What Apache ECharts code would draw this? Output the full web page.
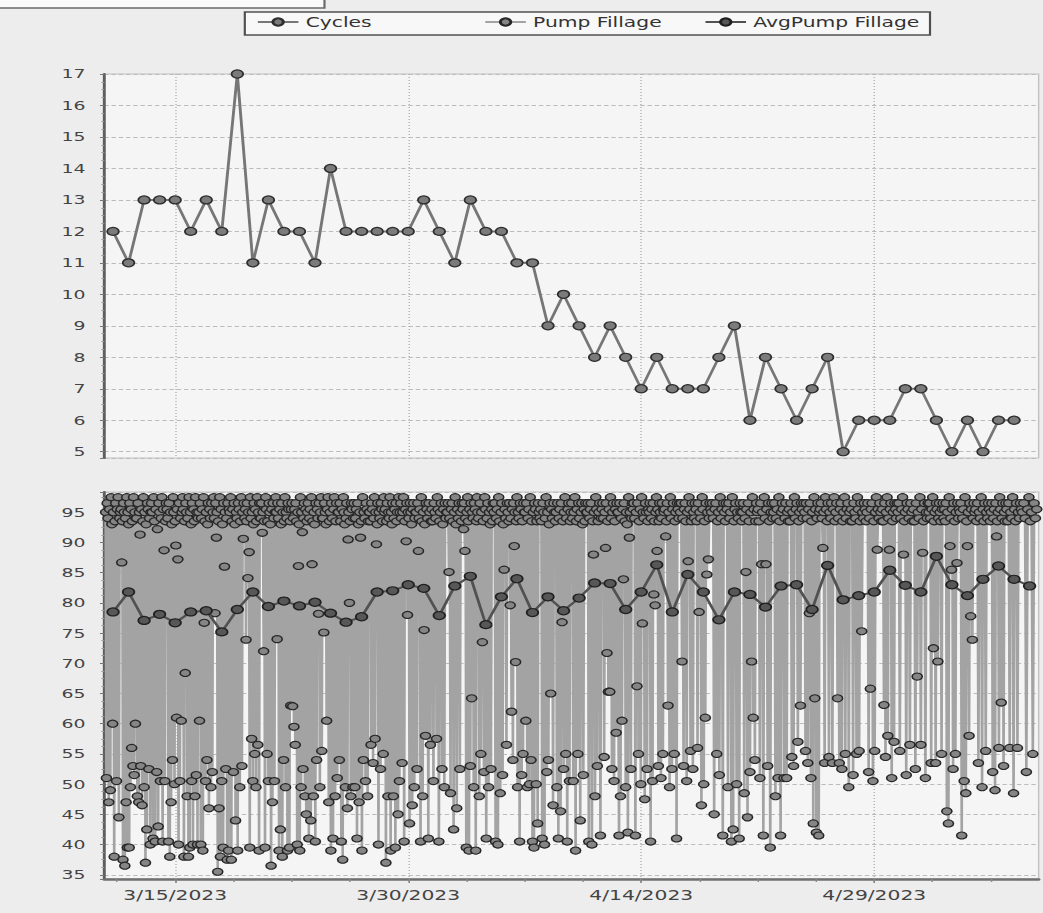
<!DOCTYPE html>
<html>
<head>
<meta charset="utf-8">
<script src="https://cdn.jsdelivr.net/npm/echarts@6/dist/echarts.min.js"></script>
<style>
  html, body { margin: 0; padding: 0; background: #ededed; overflow: hidden; }
  /* the chart is laid out on a 720px-wide canvas and widened to fill the window */
  #chart { width: 720px; height: 913px; transform: scaleX(1.448611); transform-origin: 0 0; }
</style>
</head>
<body>
<div id="chart"></div>
<script>
// ---- data ---------------------------------------------------------------
const firstDay = '2023-03-11';                      // first day of readings
const tickDates = ['2023-03-15', '2023-03-30', '2023-04-14', '2023-04-29'];

// pump cycles per day, 3/11 .. 5/8
const cycles = [12, 11, 13, 13, 13, 12, 13, 12, 17, 11, 13, 12, 12, 11, 14, 12, 12, 12, 12, 12,
  13, 12, 11, 13, 12, 12, 11, 11, 9, 10, 9, 8, 9, 8, 7, 8, 7, 7, 7, 8,
  9, 6, 8, 7, 6, 7, 8, 5, 6, 6, 6, 7, 7, 6, 5, 6, 5, 6, 6];

// daily average pump fillage (%), 3/11 .. 5/9
const avgFillage = [78.5, 81.8, 77.1, 78.1, 76.7, 78.5, 78.7, 75.2, 78.9, 81.8,
  79.4, 80.3, 79.5, 80.1, 78.3, 76.8, 77.7, 81.8, 82.0, 83.0,
  82.4, 77.9, 82.8, 84.4, 76.4, 81.0, 84.0, 78.4, 81.0, 78.7,
  80.8, 83.3, 83.2, 78.9, 81.8, 86.3, 78.5, 84.7, 81.8, 77.2,
  81.8, 81.4, 79.3, 82.8, 83.0, 78.9, 86.2, 80.5, 81.2, 81.8,
  85.4, 82.9, 81.8, 87.7, 83.0, 81.2, 83.9, 86.1, 83.9, 82.8];

// individual pump fillage readings (%), one list per day, 3/11 .. 5/9
const fillage = [
  [95, 51, 96.5, 94, 47, 95.5, 49, 97.5, 93, 60, 95, 38, 93.5, 96.5, 50.5, 95.5, 97.5, 44.5, 94, 95],
  [95.5, 86.7, 93.5, 37.5, 96.5, 95, 36.5, 94, 47, 97.5, 39.5, 95, 93, 39.5, 96.5, 49.5, 95.5, 56, 93.5, 53, 97.5, 51.5, 95, 60, 94],
  [94, 48, 96.5, 47, 95, 91.3, 53, 95.5, 46.5, 93.5, 97.5, 49.5, 95, 37, 93, 42.5, 96.5, 95.5, 52.5, 94, 40, 95, 96.5],
  [95, 41, 97.5, 93.5, 40.5, 95.5, 52, 92.2, 43, 96.5, 95, 50.5, 94, 97.5, 40.5, 95.5, 88.7, 50.5, 93.5, 96.5, 95.5],
  [94, 40.5, 96.5, 38, 95, 47, 93, 54, 97.5, 95, 50, 93.5, 89.5, 61, 95.5, 87.2, 40, 96.5, 50.5, 94, 60.5, 95, 97.5],
  [95.5, 38, 93.5, 68.4, 96.5, 95, 48, 94, 38, 97.5, 39.5, 95, 93, 50.5, 96.5, 40, 95.5, 93.5, 48, 97.5, 51.5, 95, 40, 94],
  [95, 60.5, 96.5, 40, 94, 95.5, 39, 97.5, 76.7, 93.5, 50.5, 95, 54, 93, 96.5, 46, 95.5, 94, 49.5, 96.5, 52, 95, 97.5],
  [94, 78.3, 96.5, 90.8, 95, 35.5, 93.5, 46, 97.5, 38, 95.5, 50.5, 93, 39.5, 96.5, 86, 95, 52.5, 94, 37.5, 96.5, 39, 95.5],
  [95, 97.5, 37.5, 93.5, 95.5, 52, 96.5, 93, 44, 95, 94, 39, 96.5, 95.5, 49.5, 93.5, 97.5, 53, 95, 90.6, 96.5, 94],
  [95.5, 73.9, 93.5, 96.5, 84.1, 95, 88.4, 39.5, 97.5, 94, 57.5, 95, 50.5, 93, 96.5, 55, 95.5, 49.5, 93.5, 97.5, 56.5, 95, 39, 96.5, 94],
  [94, 96.5, 91.6, 95, 72, 93.5, 39.5, 97.5, 95.5, 55, 93.5, 50.5, 96.5, 95, 93, 36.5, 95.5, 47, 96.5, 94, 50.5, 95, 97.5],
  [95, 74, 96.5, 94, 39, 95.5, 42.5, 93, 96.5, 38, 95, 54, 93.5, 97.5, 49.5, 95, 94, 39, 96.5, 95.5, 39.5, 93.5, 63, 95.5],
  [96.5, 62.9, 94, 59.5, 95.5, 56.5, 96.5, 93.5, 40, 95, 86.1, 93, 39, 97.5, 49.5, 95, 91.7, 52.5, 94, 96.5, 48, 95.5, 45, 93.5],
  [95, 96.5, 41, 94, 95.5, 44, 97.5, 86.4, 93.5, 48, 95, 93, 40.5, 96.5, 54, 95.5, 94, 78.2, 96.5, 49.5, 95, 97.5, 55.5, 94],
  [94, 75.1, 96.5, 95, 93, 60.5, 95.5, 97.5, 47, 93.5, 95, 39, 96.5, 94, 41, 95.5, 97.5, 48, 93.5, 96.5, 51, 95],
  [95, 54, 96.5, 93.5, 40.5, 95.5, 37.5, 97.5, 95, 93, 49.5, 94, 96.5, 46, 90.5, 95, 80, 93.5, 48, 96.5, 95.5, 49.5, 94],
  [96.5, 49.5, 94, 95.5, 41, 96.5, 93, 47, 95, 90.8, 93.5, 39, 97.5, 54, 95, 94, 50.5, 96.5, 95.5, 48, 93.5, 95],
  [95, 93.5, 56.5, 96.5, 95.5, 53.5, 94, 97.5, 57.5, 95, 89.7, 93, 96.5, 40, 95, 94, 52.5, 96.5, 95.5, 93.5, 55, 97.5, 95],
  [95.5, 37, 93.5, 96.5, 48, 95, 94, 97.5, 39, 95, 93, 96.5, 48, 94, 95.5, 39.5, 96.5, 93.5, 95, 45, 97.5, 50.5, 95],
  [96.5, 94, 53.5, 95, 97.5, 40.5, 93.5, 95.5, 90.2, 96.5, 78, 95, 94, 43.5, 96.5, 95, 93, 46.5, 95.5, 96.5, 49.5, 94, 95],
  [95, 52.5, 96.5, 88.6, 94, 95.5, 40.5, 97.5, 93.5, 48, 95, 75.5, 93, 58, 96.5, 95.5, 94, 41, 96.5, 95, 56.5, 93.5],
  [95.5, 93.5, 50.5, 96.5, 95, 94, 57.5, 97.5, 95.5, 40.5, 93.5, 95, 96.5, 52.5, 93, 95.5, 49.5, 96.5, 94, 95],
  [95, 96.5, 85.1, 94, 48.5, 95.5, 96.5, 93.5, 42.5, 95, 97.5, 93, 46, 95.5, 94, 96.5, 52.5, 95, 93.5, 96.5],
  [95.5, 92.2, 96.5, 88.6, 94, 39.5, 95, 97.5, 93.5, 39, 95.5, 53, 96.5, 64.2, 95, 94, 49.5, 96.5, 95.5, 39, 93.5, 97.5, 95],
  [94, 48, 96.5, 55, 95, 73.5, 93.5, 52, 97.5, 95.5, 41, 94, 96.5, 49.5, 95, 93, 52.5, 95.5, 93.5, 96.5],
  [95, 96.5, 40.5, 94, 95.5, 40, 97.5, 93.5, 48.5, 95, 96.5, 51.5, 93, 85.5, 95.5, 94, 56.5, 96.5, 95, 93.5],
  [96.5, 79.6, 94, 62, 95.5, 54, 96.5, 89.4, 95, 70.2, 93.5, 97.5, 49.5, 95, 94, 40.5, 96.5, 95.5, 51.5, 93.5, 55, 96.5, 95],
  [95, 60.5, 96.5, 49.5, 94, 95.5, 50, 97.5, 54, 93.5, 40.5, 95, 39.5, 96.5, 95.5, 50, 93.5, 43.5, 96.5, 95, 94],
  [95.5, 93.5, 41, 96.5, 95, 40, 94, 97.5, 52, 95, 54, 93, 96.5, 65, 95.5, 94, 46.5, 96.5, 95, 93.5],
  [95, 49.5, 96.5, 41, 94, 95.5, 45.5, 96.5, 76.8, 93.5, 52.5, 95, 97.5, 55, 94, 40.5, 95.5, 96.5, 50.5, 93.5, 95],
  [96.5, 94, 50.5, 95, 97.5, 39, 93.5, 95.5, 55, 96.5, 94, 44, 95, 96.5, 93, 51.5, 95.5, 93.5, 96.5, 95],
  [95, 96.5, 40.5, 94, 95.5, 96.5, 40, 93.5, 88, 95, 48, 97.5, 95.5, 53, 93.5, 95, 96.5, 41.5, 94, 95.5],
  [96.5, 94, 54.5, 95, 89.1, 96.5, 71.7, 93.5, 65.3, 95.5, 65.3, 97.5, 94, 52.5, 95, 96.5, 50.5, 93.5, 95.5, 58.5, 96.5, 95],
  [95, 41.5, 96.5, 48, 94, 60.5, 95.5, 83.9, 96.5, 93.5, 49.5, 95, 93, 42, 97.5, 90.8, 95, 52.5, 94, 96.5, 95.5],
  [96.5, 94, 41.5, 95, 66.2, 96.5, 55, 93.5, 95.5, 50, 97.5, 76.6, 95, 94, 47.5, 96.5, 95, 52.5, 93.5, 95.5],
  [95, 96.5, 40.5, 94, 95.5, 50.5, 96.5, 81.4, 93.5, 79.6, 95, 97.5, 88.6, 95.5, 53, 93.5, 96.5, 95, 51, 94, 96.5, 55, 95.5, 95],
  [95.5, 91, 93.5, 96.5, 63, 95, 49.5, 97.5, 94, 52.5, 95.5, 96.5, 55, 93.5, 95, 41, 96.5, 95.5, 94, 96.5],
  [95, 96.5, 70.3, 94, 53, 95.5, 96.5, 93.5, 50.5, 95, 86.9, 97.5, 95.5, 55.5, 93.5, 96.5, 52.5, 95, 94, 96.5],
  [95.5, 93.5, 56, 96.5, 78.5, 95, 94, 46.5, 97.5, 95.5, 50, 93.5, 61, 96.5, 84.7, 95, 87.2, 94, 96.5, 95.5],
  [95, 96.5, 94, 45, 95.5, 96.5, 55, 93.5, 95, 51.5, 97.5, 94, 95.5, 41.5, 96.5, 95, 93.5, 96.5],
  [95.5, 49.5, 96.5, 94, 95, 40.5, 97.5, 42.5, 93.5, 95.5, 96.5, 50, 95, 94, 41, 96.5, 95, 93.5],
  [95, 96.5, 48.5, 94, 85.1, 95.5, 44.5, 96.5, 93.5, 52, 95, 70.3, 97.5, 61, 95.5, 54, 93.5, 96.5, 95],
  [95.5, 93.5, 51, 96.5, 86.4, 95, 41.5, 97.5, 94, 86.4, 95.5, 53, 96.5, 93.5, 39.5, 95, 96.5, 94],
  [95, 96.5, 48, 94, 95.5, 51, 97.5, 93.5, 41.5, 95, 96.5, 95.5, 51, 94, 96.5, 51, 95, 93.5],
  [95.5, 93.5, 96.5, 54.5, 95, 53, 97.5, 94, 95.5, 96.5, 57, 93.5, 95, 63, 96.5, 95.5, 94, 96.5],
  [95, 55.5, 96.5, 94, 53.5, 95.5, 78.3, 96.5, 51, 93.5, 95, 43.5, 97.5, 64.2, 95.5, 42, 94, 96.5, 41.5, 95],
  [95.5, 96.5, 94, 89.1, 95, 53.5, 97.5, 95.5, 93.5, 96.5, 54.5, 95, 94, 96.5, 53.5, 95.5, 97.5, 93.5],
  [95, 96.5, 64.2, 94, 53.5, 95.5, 96.5, 52.5, 93.5, 95, 97.5, 55, 94, 95.5, 96.5, 49.5, 95, 93.5],
  [95.5, 93.5, 51.5, 96.5, 95, 94, 55, 97.5, 95.5, 55.5, 93.5, 96.5, 75.3, 95, 94, 96.5, 95.5, 93.5],
  [95, 96.5, 52, 94, 65.8, 95.5, 96.5, 50.5, 93.5, 55.5, 95, 97.5, 88.8, 95.5, 94, 96.5, 95, 93.5],
  [95.5, 93.5, 63.1, 96.5, 54.5, 95, 97.5, 58, 94, 88.8, 95.5, 96.5, 51, 93.5, 95, 57, 96.5, 95.5, 94, 96.5],
  [95, 96.5, 55.5, 94, 95.5, 97.5, 88, 93.5, 95, 51.5, 96.5, 95.5, 94, 56.5, 96.5, 95, 93.5],
  [95.5, 93.5, 52.5, 96.5, 67.8, 95, 94, 97.5, 56.5, 95.5, 88.3, 93.5, 96.5, 51, 95, 94, 96.5],
  [95, 96.5, 94, 53.5, 95.5, 97.5, 72.5, 93.5, 95, 53.5, 96.5, 95.5, 70.3, 94, 96.5, 95, 93.5, 55, 95.5, 96.5, 94],
  [95.5, 93.5, 96.5, 45.5, 95, 43.5, 97.5, 89.4, 94, 85.5, 95.5, 52.5, 96.5, 93.5, 55, 95, 86.6, 96.5, 94, 95.5],
  [95, 96.5, 41.5, 94, 95.5, 50.5, 97.5, 48.5, 93.5, 89.4, 95, 58, 96.5, 77.8, 95.5, 73.9, 94, 96.5, 95],
  [95.5, 93.5, 96.5, 53.5, 95, 94, 97.5, 49.5, 95.5, 93.5, 96.5, 55.5, 95, 94, 96.5, 95.5, 93.5],
  [95, 96.5, 52, 94, 95.5, 49, 96.5, 91, 93.5, 95, 56, 97.5, 95.5, 63.5, 94, 96.5, 53, 95, 93.5, 96.5],
  [95.5, 93.5, 96.5, 56, 95, 94, 97.5, 48.5, 95.5, 93.5, 96.5, 56, 95, 94, 96.5, 95.5],
  [95, 96.5, 94, 52, 95.5, 97.5, 93.5, 95, 55, 96.5, 94, 95.5]
];

// ---- time helpers -------------------------------------------------------
const HOUR = 3600000, DAY = 24 * HOUR;
function parseDay(s) { const p = s.split('-').map(Number); return new Date(p[0], p[1] - 1, p[2]).getTime(); }
const start = new Date(parseDay(firstDay));
function dayTime(i) { return new Date(start.getFullYear(), start.getMonth(), start.getDate() + i).getTime(); }
function fmtDate(v) { const d = new Date(v); return (d.getMonth() + 1) + '/' + d.getDate() + '/' + d.getFullYear(); }

const xMin = dayTime(0) - 13.5 * HOUR;
const xMax = dayTime(avgFillage.length - 1) + 14 * HOUR;
const majorTicks = tickDates.map(parseDay);
const minorTicks = [];
for (let t = majorTicks[0] - 3.75 * DAY; t <= xMax; t += 3.75 * DAY) { if (t >= xMin) minorTicks.push(t); }

// readings spread evenly across their day
const fillPoints = [];
fillage.forEach((day, k) => {
  const n = day.length;
  day.forEach((v, j) => fillPoints.push([dayTime(k) + ((j + 0.5) / n - 0.5) * DAY, v]));
});
const cyclePoints = cycles.map((v, i) => [dayTime(i), v]);
const avgPoints = avgFillage.map((v, i) => [dayTime(i), v]);

// ---- chart --------------------------------------------------------------
const FONT = 'DejaVu Sans';
const hLines = { show: true, lineStyle: { color: '#bcbcbc', width: 1, type: [3, 2] } };
const vLines = { show: true, lineStyle: { color: '#b2b2b2', width: 1, type: [1, 2] } };
const yLine = { show: true, onZero: false, lineStyle: { color: '#5e5e5e', width: 2 } };
const yTick = { show: true, length: 3, lineStyle: { color: '#777' } };
const yMinor = { show: true, splitNumber: 4, length: 2, lineStyle: { color: '#9a9a9a' } };
const legendBase = {
  top: 15, padding: 0, itemGap: 0, itemWidth: 28, itemHeight: 9, selectedMode: false,
  textStyle: { fontFamily: FONT, fontSize: 14, color: '#333' }
};
const yLabel = { fontFamily: FONT, fontSize: 13, color: '#444', margin: 13 };

const chart = echarts.init(document.getElementById('chart'), null, { renderer: 'svg' });
chart.setOption({
  animation: false,
  backgroundColor: '#ededed',
  graphic: [
    { type: 'rect', silent: true, shape: { x: -3, y: -3, width: 227, height: 11 },
      style: { fill: '#fafafa', stroke: '#6a6a6a', lineWidth: 1.5 } },
    { type: 'rect', silent: true, shape: { x: 169, y: 12, width: 473, height: 23 },
      style: { fill: '#f8f8f8', stroke: '#505050', lineWidth: 1.5 } }
  ],
  legend: [
    Object.assign({ data: ['Cycles'], left: 177 }, legendBase),
    Object.assign({ data: ['Pump Fillage'], left: 334 }, legendBase),
    Object.assign({ data: ['AvgPump Fillage'], left: 486 }, legendBase)
  ],
  grid: [
    { left: 72, right: 3, top: 74, height: 384, show: true, backgroundColor: '#f5f5f5', borderColor: '#c2c2c2', borderWidth: 1 },
    { left: 72, right: 3, top: 492, height: 387, show: true, backgroundColor: '#f5f5f5', borderColor: '#c2c2c2', borderWidth: 1 }
  ],
  xAxis: [
    { gridIndex: 0, type: 'value', min: xMin, max: xMax, position: 'bottom', scale: true,
      axisLine: { show: false, onZero: false },
      axisTick: { show: false, customValues: majorTicks },
      axisLabel: { show: false, customValues: majorTicks },
      splitLine: vLines },
    { gridIndex: 1, type: 'value', min: xMin, max: xMax, position: 'bottom', scale: true,
      axisLine: { show: true, onZero: false, lineStyle: { color: '#707070', width: 2.5 } },
      axisTick: { show: true, length: 4, customValues: majorTicks, lineStyle: { color: '#777' } },
      axisLabel: { customValues: majorTicks, formatter: fmtDate, fontFamily: FONT, fontSize: 14, color: '#444', margin: 9 },
      splitLine: vLines },
    { gridIndex: 1, type: 'value', min: xMin, max: xMax, position: 'bottom', scale: true,
      axisLine: { show: false, onZero: false },
      axisTick: { show: true, length: 3, customValues: minorTicks, lineStyle: { color: '#8a8a8a' } },
      axisLabel: { show: false },
      splitLine: { show: false } }
  ],
  yAxis: [
    { gridIndex: 0, type: 'value', min: 4.8, max: 17, splitNumber: 12,
      axisLine: yLine, axisTick: yTick, minorTick: yMinor, splitLine: hLines,
      axisLabel: Object.assign({
        formatter: v => (Math.abs(v - Math.round(v)) < 1e-6 && v >= 5) ? String(Math.round(v)) : '' }, yLabel) },
    { gridIndex: 1, type: 'value', min: 34.3, max: 98.35, splitNumber: 13,
      axisLine: yLine, axisTick: yTick, minorTick: yMinor, splitLine: hLines,
      axisLabel: Object.assign({
        formatter: v => (Math.abs(v / 5 - Math.round(v / 5)) < 1e-6) ? String(Math.round(v)) : '' }, yLabel) }
  ],
  series: [
    { name: 'Cycles', type: 'line', xAxisIndex: 0, yAxisIndex: 0, data: cyclePoints,
      symbol: 'circle', symbolSize: 8, showAllSymbol: true, z: 3,
      itemStyle: { color: '#7b7b7b', borderColor: '#2e2e2e', borderWidth: 1.2 },
      lineStyle: { color: '#767676', width: 2 }, emphasis: { disabled: true } },
    { name: 'Pump Fillage', type: 'line', xAxisIndex: 1, yAxisIndex: 1, data: fillPoints,
      symbol: 'circle', symbolSize: 7, showAllSymbol: true, z: 2,
      itemStyle: { color: '#858585', borderColor: '#262626', borderWidth: 1.1 },
      lineStyle: { color: '#a3a3a3', width: 1.8 }, emphasis: { disabled: true } },
    { name: 'AvgPump Fillage', type: 'line', xAxisIndex: 1, yAxisIndex: 1, data: avgPoints,
      symbol: 'circle', symbolSize: 8, showAllSymbol: true, z: 4,
      itemStyle: { color: '#575757', borderColor: '#202020', borderWidth: 1.2 },
      lineStyle: { color: '#515151', width: 2 }, emphasis: { disabled: true } }
  ]
});
</script>
</body>
</html>
